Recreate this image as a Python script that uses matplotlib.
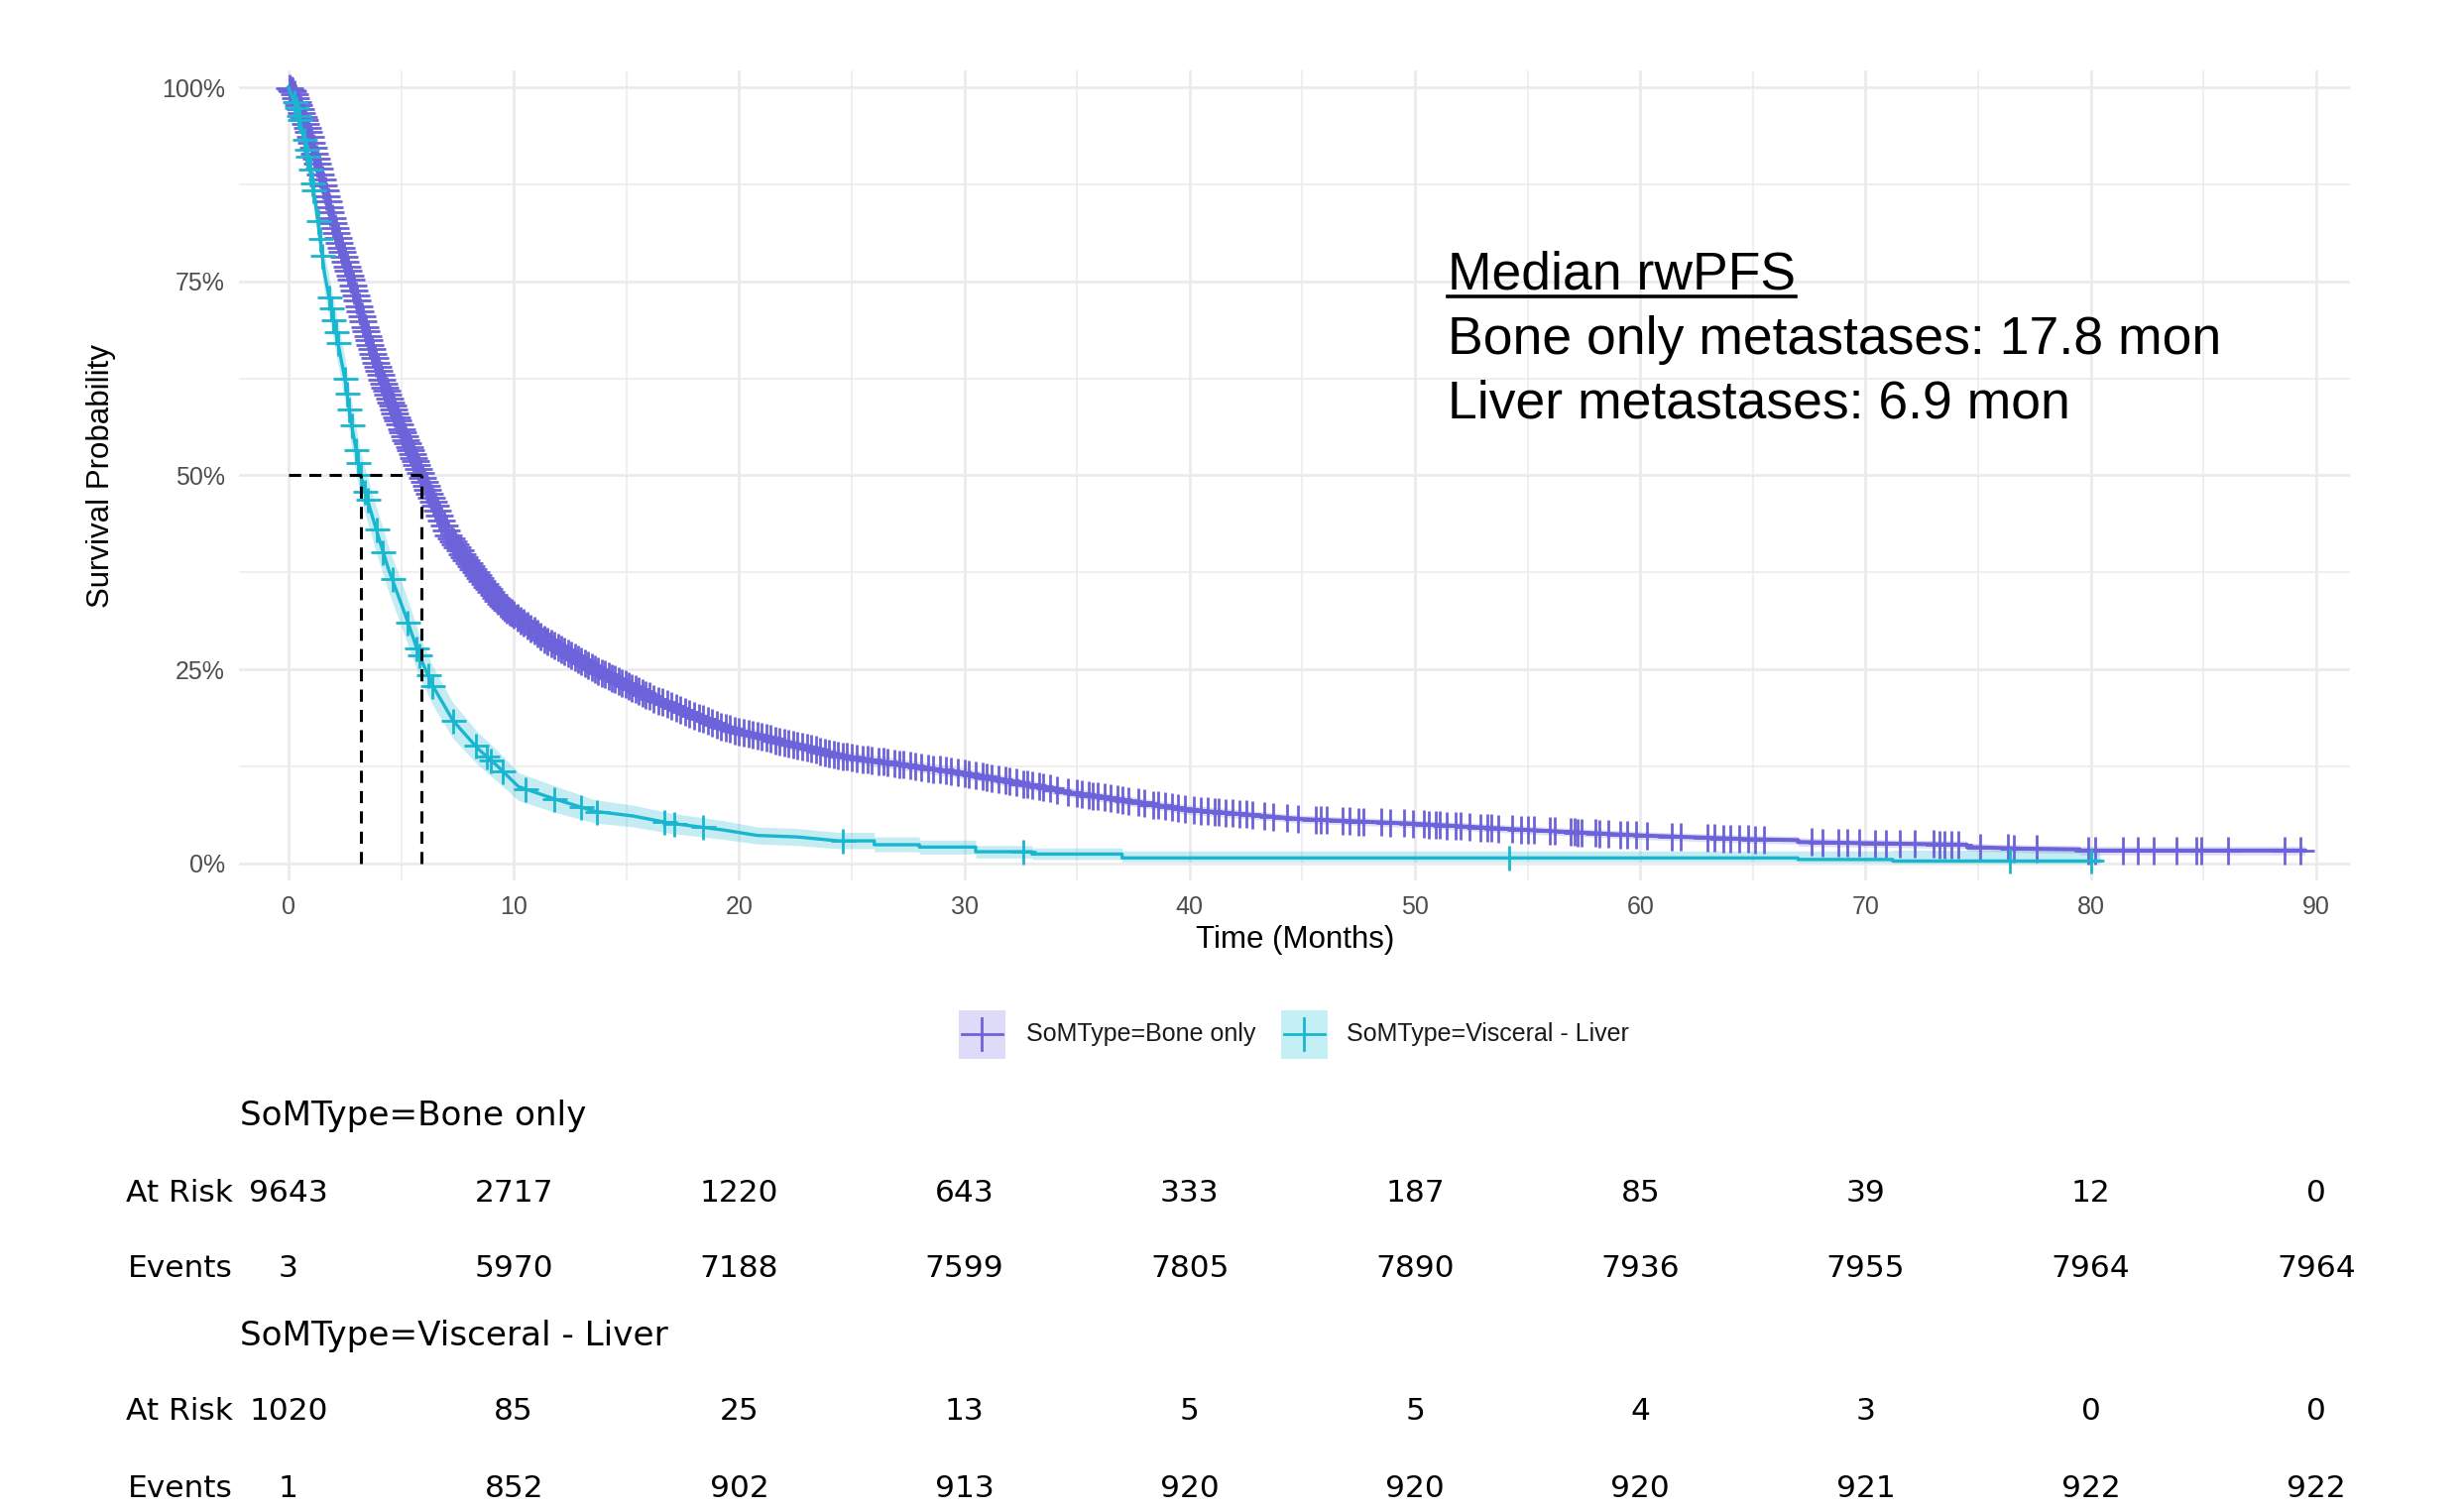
import numpy as np
import matplotlib
matplotlib.use('Agg')
from matplotlib import pyplot as plt
from matplotlib import transforms
from matplotlib.patches import Rectangle
from matplotlib.lines import Line2D

# Kaplan-Meier curves (time in months, survival)
bone_t = [0, 0.2, 0.9, 1.5, 2.1, 2.8, 3.4, 4.15, 5.0, 5.9, 7.1, 8.3, 9.45, 11.4, 13.6, 16.3, 19.3,
          24.4, 30, 35, 40, 45, 50, 55, 60, 65, 67, 67, 70, 74.5, 74.5, 77, 79.5, 79.5, 89.5]
bone_s = [1.0, 0.995, 0.943, 0.879, 0.815, 0.75, 0.688, 0.623, 0.56, 0.50, 0.423, 0.375, 0.333, 0.288,
          0.25, 0.211, 0.175, 0.139, 0.116, 0.090, 0.069, 0.057, 0.051, 0.043, 0.036, 0.031, 0.030,
          0.0275, 0.026, 0.024, 0.021, 0.019, 0.018, 0.0165, 0.0165]
bone_lo = [1.0, 0.993, 0.938, 0.872, 0.807, 0.741, 0.679, 0.613, 0.550, 0.490, 0.413, 0.365, 0.324,
           0.279, 0.241, 0.203, 0.167, 0.132, 0.109, 0.084, 0.063, 0.052, 0.046, 0.038, 0.031, 0.026,
           0.025, 0.022, 0.021, 0.019, 0.016, 0.014, 0.013, 0.011, 0.011]
bone_hi = [1.0, 0.997, 0.948, 0.886, 0.823, 0.759, 0.697, 0.633, 0.570, 0.510, 0.433, 0.385, 0.342,
           0.297, 0.259, 0.219, 0.183, 0.146, 0.123, 0.096, 0.075, 0.062, 0.056, 0.048, 0.041, 0.036,
           0.035, 0.033, 0.031, 0.029, 0.026, 0.024, 0.023, 0.022, 0.022]
bone_cens = [0.05, 0.12, 0.18, 0.25, 0.31, 0.38, 0.44, 0.51, 0.57, 0.64, 0.7, 0.77, 0.83, 0.9, 0.96,
             1.03, 1.09, 1.16, 1.22, 1.29, 1.35, 1.42, 1.48, 1.55, 1.61, 1.68, 1.74, 1.81, 1.87, 1.94,
             2.0, 2.07, 2.13, 2.2, 2.26, 2.33, 2.39, 2.46, 2.52, 2.59, 2.65, 2.72, 2.78, 2.85, 2.91,
             2.98, 3.04, 3.11, 3.17, 3.24, 3.3, 3.37, 3.43, 3.5, 3.56, 3.63, 3.69, 3.76, 3.82, 3.89,
             3.95, 4.02, 4.08, 4.15, 4.21, 4.28, 4.34, 4.41, 4.47, 4.54, 4.6, 4.67, 4.73, 4.8, 4.86,
             4.93, 5.0, 5.07, 5.14, 5.21, 5.28, 5.35, 5.42, 5.49, 5.56, 5.63, 5.7, 5.78, 5.86, 5.94,
             6.02, 6.1, 6.18, 6.26, 6.34, 6.42, 6.5, 6.6, 6.7, 6.8, 6.9, 7.0, 7.1, 7.2, 7.3, 7.4, 7.5,
             7.6, 7.7, 7.8, 7.9, 8.0, 8.1, 8.2, 8.3, 8.4, 8.5, 8.6, 8.7, 8.8, 8.9, 9.0, 9.1, 9.2, 9.3,
             9.4, 9.5, 9.6, 9.7, 9.8, 9.9, 10.0, 10.15, 10.3, 10.45, 10.6, 10.75, 10.9, 11.05, 11.2,
             11.35, 11.5, 11.65, 11.8, 11.95, 12.1, 12.25, 12.4, 12.55, 12.7, 12.85, 13.0, 13.15, 13.3,
             13.45, 13.6, 13.75, 13.9, 14.05, 14.2, 14.35, 14.5, 14.65, 14.8, 14.95, 15.1, 15.25, 15.4,
             15.55, 15.7, 15.85, 16.0, 16.2, 16.4, 16.6, 16.8, 17.0, 17.2, 17.4, 17.6, 17.8, 18.0,
             18.2, 18.4, 18.6, 18.8, 19.0, 19.2, 19.4, 19.6, 19.8, 20.0, 20.2, 20.4, 20.6, 20.8, 21.0,
             21.2, 21.4, 21.6, 21.8, 22.0, 22.2, 22.4, 22.6, 22.8, 23.0, 23.2, 23.4, 23.6, 23.8, 24.0,
             24.2, 24.4, 24.6, 24.8, 25.0, 25.2, 25.5, 25.7, 25.9, 26.2, 26.4, 26.6, 26.9, 27.1, 27.3,
             27.6, 27.8, 28.1, 28.4, 28.6, 28.9, 29.2, 29.4, 29.7, 30.0, 30.2, 30.5, 30.8, 31.0, 31.2,
             31.5, 31.8, 32.0, 32.3, 32.6, 32.8, 33.0, 33.3, 33.5, 33.8, 34.1, 34.6, 35.0, 35.2, 35.5,
             35.7, 35.9, 36.2, 36.5, 36.8, 37.0, 37.3, 37.7, 38.0, 38.4, 38.6, 38.9, 39.2, 39.5, 39.8,
             40.2, 40.5, 40.8, 41.1, 41.3, 41.6, 41.9, 42.2, 42.5, 42.8, 43.3, 43.7, 44.3, 44.8, 45.6,
             45.8, 46.1, 46.8, 47.1, 47.5, 47.7, 48.5, 48.9, 49.5, 49.9, 50.4, 50.6, 50.9, 51.1, 51.4,
             51.8, 52.0, 52.4, 52.9, 53.2, 53.4, 53.7, 54.3, 54.7, 55.0, 55.3, 56.0, 56.2, 56.9, 57.1,
             57.2, 57.4, 58.0, 58.2, 58.6, 59.1, 59.4, 59.8, 60.3, 61.4, 61.8, 63.0, 63.3, 63.7, 64.0,
             64.4, 64.8, 65.1, 65.5, 67.6, 68.1, 68.8, 69.2, 69.7, 70.4, 70.9, 71.5, 72.2, 73.0, 73.3,
             73.5, 73.8, 74.1, 75.1, 76.3, 76.6, 77.6, 79.9, 80.2, 81.4, 82.1, 82.8, 83.8, 84.7, 84.9,
             86.1, 88.6, 89.3]

liver_t = [0, 0.4, 0.8, 1.2, 1.6, 2.0, 2.5, 2.8, 3.2, 3.6, 4.0, 4.45, 5.2, 5.8, 6.4, 7.3, 8.4, 9.25,
           10.2, 11.8, 13.6, 15.3, 16.9, 19.3, 20.8, 22.6, 24.4, 26, 26, 28, 28, 30.5, 30.5, 33, 33,
           37, 37, 67, 67, 71.2, 71.2, 80.4]
liver_s = [1.0, 0.97, 0.92, 0.85, 0.76, 0.70, 0.625, 0.565, 0.50, 0.459, 0.42, 0.378, 0.319, 0.268,
           0.229, 0.184, 0.148, 0.126, 0.099, 0.083, 0.067, 0.061, 0.052, 0.043, 0.036, 0.034, 0.029,
           0.029, 0.024, 0.024, 0.021, 0.021, 0.015, 0.015, 0.012, 0.012, 0.007, 0.007, 0.005, 0.005,
           0.003, 0.003]
liver_lo = [1.0, 0.96, 0.90, 0.83, 0.735, 0.673, 0.597, 0.535, 0.47, 0.43, 0.39, 0.349, 0.290, 0.241,
            0.204, 0.161, 0.127, 0.106, 0.081, 0.066, 0.052, 0.047, 0.039, 0.031, 0.025, 0.023, 0.019,
            0.019, 0.015, 0.015, 0.012, 0.012, 0.007, 0.007, 0.005, 0.005, 0.002, 0.002, 0.001, 0.001,
            0.0, 0.0]
liver_hi = [1.0, 0.98, 0.94, 0.87, 0.785, 0.727, 0.653, 0.595, 0.53, 0.488, 0.45, 0.407, 0.348, 0.295,
            0.254, 0.207, 0.169, 0.146, 0.117, 0.100, 0.082, 0.075, 0.065, 0.055, 0.047, 0.045, 0.040,
            0.040, 0.034, 0.034, 0.030, 0.030, 0.023, 0.023, 0.020, 0.020, 0.016, 0.016, 0.016, 0.016,
            0.017, 0.017]
liver_cens = [0.25, 0.35, 0.45, 0.5, 0.7, 0.8, 0.85, 0.95, 1.05, 1.1, 1.3, 1.4, 1.5, 1.8, 1.9, 2.0,
              2.1, 2.2, 2.5, 2.6, 2.7, 2.8, 3.0, 3.1, 3.2, 3.4, 3.5, 3.9, 4.2, 4.6, 5.3, 5.7, 5.8, 6.2,
              6.4, 7.3, 8.3, 8.8, 9.0, 9.5, 10.5, 11.8, 13.0, 13.7, 16.7, 17.1, 18.4, 24.6, 32.6, 54.2,
              76.4, 80.0]

median_bone = 5.9
median_liver = 3.2

groups = ['SoMType=Bone only', 'SoMType=Visceral - Liver']
risk_times = [0, 10, 20, 30, 40, 50, 60, 70, 80, 90]
bone_risk = [9643, 2717, 1220, 643, 333, 187, 85, 39, 12, 0]
bone_events = [3, 5970, 7188, 7599, 7805, 7890, 7936, 7955, 7964, 7964]
liver_risk = [1020, 85, 25, 13, 5, 5, 4, 3, 0, 0]
liver_events = [1, 852, 902, 913, 920, 920, 920, 921, 922, 922]

note_title = 'Median rwPFS'
note_lines = ['Bone only metastases: 17.8 mon', 'Liver metastases: 6.9 mon']

PURPLE = '#6c62d9'
CYAN = '#18b6cf'

plt.rcParams['font.family'] = 'Liberation Sans'

W, H = 2485, 1523
fig = plt.figure(figsize=(W / 100, H / 100), dpi=100)


def fx(px):
    return px / W


def fy(py):
    return 1 - py / H


ax = fig.add_axes([fx(241), fy(888), fx(2370 - 241), (888 - 71) / H])
ax.set_xlim(-2.2, 91.5)
ax.set_ylim(-0.022, 1.022)
ax.set_xticks(risk_times)
ax.set_xticks(np.arange(5, 90, 10), minor=True)
ax.set_yticks([0, 0.25, 0.5, 0.75, 1.0])
ax.set_yticklabels(['0%', '25%', '50%', '75%', '100%'])
ax.set_yticks([0.125, 0.375, 0.625, 0.875], minor=True)
ax.grid(which='major', color='#ebebeb', lw=2.0)
ax.grid(which='minor', color='#ebebeb', lw=1.1)
ax.set_axisbelow(True)
for s in ax.spines.values():
    s.set_visible(False)
ax.tick_params(which='both', length=0, labelsize=18, labelcolor='#4d4d4d')
ax.tick_params(axis='x', pad=11)
ax.tick_params(axis='y', pad=10)

# confidence bands, curves and censor marks
ax.fill_between(bone_t, bone_lo, bone_hi, color=PURPLE, alpha=0.22, lw=0)
ax.fill_between(liver_t, liver_lo, liver_hi, color=CYAN, alpha=0.25, lw=0)
ax.plot(bone_t, bone_s, color=PURPLE, lw=2.9)
ax.plot(bone_cens, np.interp(bone_cens, bone_t, bone_s), ls='none', marker='+',
        ms=20, mew=2.0, color=PURPLE)
ax.plot(liver_t, liver_s, color=CYAN, lw=2.4)
ax.plot(liver_cens, np.interp(liver_cens, liver_t, liver_s), ls='none', marker='+',
        ms=18, mew=2.0, color=CYAN)

# median lines
dash = (0, (4, 2.7))
ax.plot([0, median_bone], [0.5, 0.5], color='black', lw=2.2, ls=dash, zorder=5)
for m in [median_liver, median_bone]:
    ax.plot([m, m], [0, 0.5], color='black', lw=2.2, ls=dash, zorder=5)

fig.text(fx(1306), fy(948), 'Time (Months)', ha='center', va='center', fontsize=22.5)
fig.text(fx(102), fy(480), 'Survival Probability', ha='center', va='center',
         rotation=90, fontsize=22.5)

# annotation box
title = fig.text(fx(1460), fy(292), note_title, ha='left', va='baseline', fontsize=38.5)
fig.text(fx(1460), fy(357), note_lines[0], ha='left', va='baseline', fontsize=38.5)
fig.text(fx(1460), fy(422), note_lines[1], ha='left', va='baseline', fontsize=38.5)
fig.canvas.draw()
bb = title.get_window_extent()
fig.add_artist(Line2D([bb.x0 / W, bb.x1 / W], [fy(299), fy(299)], color='black', lw=2.6))

# legend
colors = [PURPLE, CYAN]
fills = ['#dddbf7', '#c4eff5']
key_x = [967, 1292]
txt_x = [1035, 1358]
for g, c, f, kx, tx in zip(groups, colors, fills, key_x, txt_x):
    fig.add_artist(Rectangle((fx(kx), fy(1068)), 47 / W, 49 / H, facecolor=f, edgecolor='none'))
    fig.add_artist(Line2D([fx(kx + 3), fx(kx + 44)], [fy(1043), fy(1043)], color=c, lw=2.0))
    fig.add_artist(Line2D([fx(kx + 23), fx(kx + 23)], [fy(1027), fy(1059)], color=c, lw=2.0))
    fig.text(fx(tx), fy(1043), g, ha='left', va='center', fontsize=18, color='#1a1a1a')

# risk table
tr = transforms.blended_transform_factory(ax.transData, fig.transFigure)
tab_font = dict(family='DejaVu Sans', fontsize=22.5, color='black')
rows = [
    (1125, groups[0], None),
    (1203, 'At Risk', bone_risk),
    (1279, 'Events', bone_events),
    (1347, groups[1], None),
    (1423, 'At Risk', liver_risk),
    (1501, 'Events', liver_events),
]
for py, label, vals in rows:
    if vals is None:
        fig.text(fx(242), fy(py), label, ha='left', va='center', family='DejaVu Sans',
                 fontsize=24.6, color='black')
        continue
    fig.text(fx(235), fy(py), label, ha='right', va='center', **tab_font)
    for t, v in zip(risk_times, vals):
        ax.text(t, fy(py), str(v), transform=tr, ha='center', va='center',
                clip_on=False, **tab_font)

plt.savefig('out.png', dpi=100)
